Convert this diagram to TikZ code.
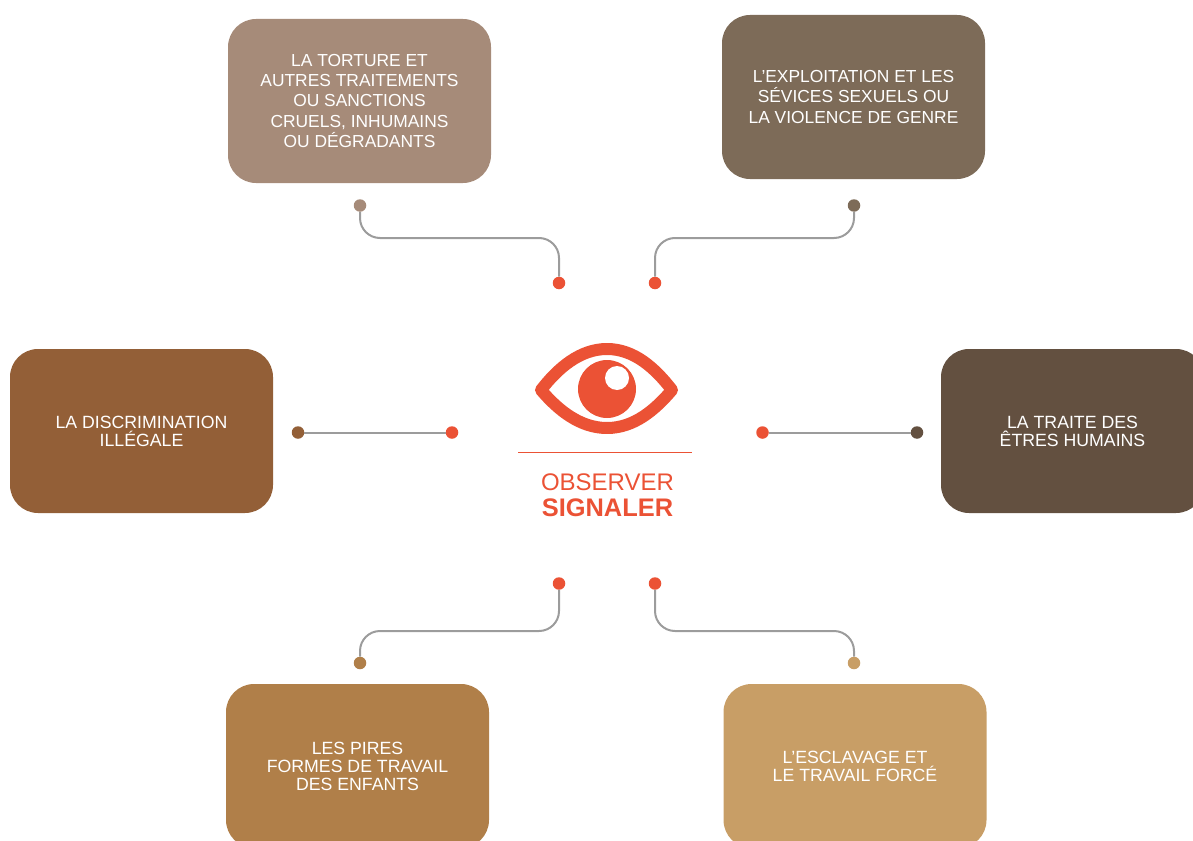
\documentclass[tikz,border=0pt]{standalone}
\usepackage{fontspec}
\setmainfont{Liberation Sans}
\definecolor{redo}{HTML}{EB5235}
\definecolor{cA}{HTML}{A68B79}
\definecolor{cB}{HTML}{7D6B58}
\definecolor{cC}{HTML}{935F37}
\definecolor{cD}{HTML}{635040}
\definecolor{cE}{HTML}{B07F49}
\definecolor{cF}{HTML}{C89E66}
\definecolor{conn}{HTML}{9C9C9C}
\tikzset{
 card/.style={fill=#1,rounded corners=28pt,minimum width=263pt,minimum height=164pt,inner sep=0pt,
   align=center,text=white},
 bigtext/.style={font=\fontsize{17.4}{20.2}\selectfont},
 smalltext/.style={font=\fontsize{17.7}{18}\selectfont},
 dot/.style={circle,fill=#1,minimum size=12.5pt,inner sep=0pt},
 link/.style={draw=conn,line width=2pt,rounded corners=20pt},
}
\begin{document}
\begin{tikzpicture}[x=1pt,y=-1pt]
\useasboundingbox (0,0) rectangle (1193,840);
\clip (0,0) rectangle (1193,840);
% boxes
\node[card=cA,bigtext] (b1) at (359.5,101) {LA TORTURE ET\\AUTRES TRAITEMENTS\\OU SANCTIONS\\CRUELS, INHUMAINS\\OU DÉGRADANTS};
\node[card=cB,bigtext] (b2) at (853.5,97) {L’EXPLOITATION ET LES\\SÉVICES SEXUELS OU\\LA VIOLENCE DE GENRE};
\node[card=cC,smalltext] (b3) at (141.5,431) {LA DISCRIMINATION\\ILLÉGALE};
\node[card=cD,smalltext] (b4) at (1072.5,431) {LA TRAITE DES\\ÊTRES HUMAINS};
\node[card=cE,smalltext] (b5) at (357.5,766) {LES PIRES\\FORMES DE TRAVAIL\\DES ENFANTS};
\node[card=cF,smalltext] (b6) at (855,766) {L’ESCLAVAGE ET\\LE TRAVAIL FORCÉ};
% dots
\node[dot=cA] (a1) at (360,205.5) {};
\node[dot=redo] (r1) at (559,283) {};
\node[dot=cB] (a2) at (854,205.5) {};
\node[dot=redo] (r2) at (655,283) {};
\node[dot=cC] (a3) at (298,432.5) {};
\node[dot=redo] (r3) at (452,432.5) {};
\node[dot=cD] (a4) at (917,432.5) {};
\node[dot=redo] (r4) at (762.5,432.5) {};
\node[dot=cE] (a5) at (360,663) {};
\node[dot=redo] (r5) at (559,583.5) {};
\node[dot=cF] (a6) at (854,663) {};
\node[dot=redo] (r6) at (655,583.5) {};
% bends
\coordinate (m1) at (459,238);
\coordinate (m2) at (755,238);
\coordinate (m5) at (459,631);
\coordinate (m6) at (755,631);
% connectors
\draw[link] (a1) |- (m1) -| (r1);
\draw[link] (a2) |- (m2) -| (r2);
\draw[link] (a3) -- (r3);
\draw[link] (a4) -- (r4);
\draw[link] (a5) |- (m5) -| (r5);
\draw[link] (a6) |- (m6) -| (r6);
% eye
\draw[redo,line width=12pt,line join=round]
  (541,390) .. controls (558,368) and (580,349) .. (607,349)
  .. controls (634,349) and (655,368) .. (672,390)
  .. controls (655,410) and (634,428) .. (607,428)
  .. controls (580,428) and (558,410) .. (541,390) -- cycle;
\fill[redo] (607,389) circle (29pt);
\fill[white] (617,378) circle (12pt);
\draw[redo,line width=1pt] (518,452) -- (692,452);
\node[text=redo,font=\fontsize{24}{24}\selectfont,inner sep=0pt] (t1) at (607.5,482) {OBSERVER};
\node[text=redo,font=\fontsize{25.4}{25.4}\selectfont\bfseries,inner sep=0pt] (t2) at (607.5,508) {SIGNALER};
\end{tikzpicture}
\end{document}
